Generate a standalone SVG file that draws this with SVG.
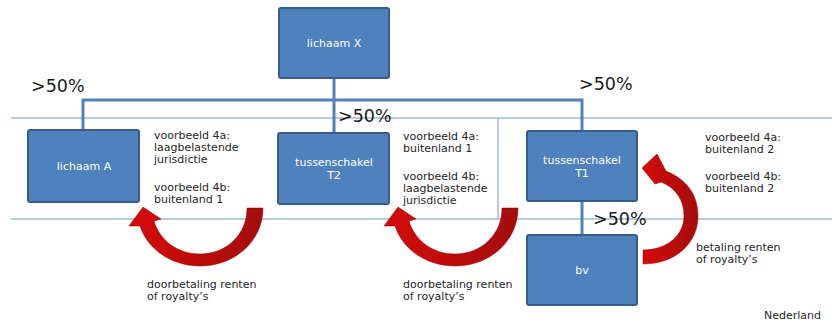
<svg xmlns="http://www.w3.org/2000/svg" width="832" height="325" viewBox="0 0 832 325">
<style>
.box{fill:#4F81BD;stroke:#385D8A;stroke-width:2}
.bt{font-family:"DejaVu Sans",Verdana,sans-serif;font-size:11px;fill:#ffffff;text-anchor:middle}
.t{font-family:"DejaVu Sans",Verdana,sans-serif;font-size:11px;fill:#262626}
.pct{font-family:"DejaVu Sans",Verdana,sans-serif;font-size:17.5px;fill:#1a1a1a}
.conn{stroke:#4F81BD;stroke-width:3;fill:none}
.sep{stroke:#9DB9DC;stroke-width:1.5;fill:none}
.arr{fill:url(#red);stroke:#8f0000;stroke-width:0.5}
</style>
<defs>
<linearGradient id="red" x1="0" y1="0" x2="1" y2="0">
<stop offset="0" stop-color="#d60a0a"/>
<stop offset="1" stop-color="#a30d0d"/>
</linearGradient>
</defs>
<rect width="832" height="325" fill="#ffffff"/>
<g id="separators">
<line class="sep" x1="11" y1="118" x2="832" y2="118"/>
<line class="sep" x1="11" y1="219" x2="832" y2="219"/>
<line class="sep" x1="498" y1="118" x2="498" y2="219"/>
</g>
<g id="connectors">
<polyline class="conn" points="83,130 83,100 582,100 582,131"/>
<line class="conn" x1="334" y1="78" x2="334" y2="133"/>
<line class="conn" x1="582" y1="201" x2="582" y2="235"/>
</g>
<g id="lichaamX">
<rect class="box" x="279" y="8" width="110" height="70" rx="2"/>
<text class="bt" x="334" y="47">lichaam X</text>
</g>
<g id="lichaamA">
<rect class="box" x="28" y="130" width="111" height="72" rx="2"/>
<text class="bt" x="84" y="170">lichaam A</text>
</g>
<g id="T2">
<rect class="box" x="278" y="133" width="111" height="71" rx="2"/>
<text class="bt" x="334" y="166">tussenschakel</text>
<text class="bt" x="334" y="179">T2</text>
</g>
<g id="T1">
<rect class="box" x="527" y="131" width="110" height="70" rx="2"/>
<text class="bt" x="582" y="164">tussenschakel</text>
<text class="bt" x="582" y="177">T1</text>
</g>
<g id="bv">
<rect class="box" x="527" y="235" width="110" height="70" rx="2"/>
<text class="bt" x="582" y="274">bv</text>
</g>
<g id="arrows">
<path class="arr" d="M263 208 C263 241 235 266 200 266 C172 266 148 250 140 226 L129 226 L143 207 L161 219 L154 221 C160 241 178 254 200 254 C227 254 247 234 247 208 Z"/>
<path class="arr" transform="translate(255,0)" d="M263 208 C263 241 235 266 200 266 C172 266 148 250 140 226 L129 226 L143 207 L161 219 L154 221 C160 241 178 254 200 254 C227 254 247 234 247 208 Z"/>
<path class="arr" d="M643 264 C676 264 698 243 698 216 C698 196 688 180 666 171 L657 154 L642 168 L655 184 L661 182 C676 188 684 200 684 216 C684 236 666 250 643 250 Z"/>
</g>
<g id="labels">
<text class="pct" x="31" y="92">&gt;50%</text>
<text class="pct" x="338" y="122">&gt;50%</text>
<text class="pct" x="579" y="90">&gt;50%</text>
<text class="pct" x="593" y="225">&gt;50%</text>
<text class="t" x="154" y="139">voorbeeld 4a:</text>
<text class="t" x="154" y="151">laagbelastende</text>
<text class="t" x="154" y="163">jurisdictie</text>
<text class="t" x="154" y="191">voorbeeld 4b:</text>
<text class="t" x="154" y="203">buitenland 1</text>
<text class="t" x="403" y="140">voorbeeld 4a:</text>
<text class="t" x="403" y="152">buitenland 1</text>
<text class="t" x="403" y="180">voorbeeld 4b:</text>
<text class="t" x="403" y="192">laagbelastende</text>
<text class="t" x="403" y="204">jurisdictie</text>
<text class="t" x="705" y="141">voorbeeld 4a:</text>
<text class="t" x="705" y="153">buitenland 2</text>
<text class="t" x="705" y="180">voorbeeld 4b:</text>
<text class="t" x="705" y="192">buitenland 2</text>
<text class="t" x="696" y="251">betaling renten</text>
<text class="t" x="696" y="263">of royalty’s</text>
<text class="t" x="147" y="288">doorbetaling renten</text>
<text class="t" x="147" y="300">of royalty’s</text>
<text class="t" x="403" y="288">doorbetaling renten</text>
<text class="t" x="403" y="300">of royalty’s</text>
<text class="t" x="764" y="319">Nederland</text>
</g>
</svg>
